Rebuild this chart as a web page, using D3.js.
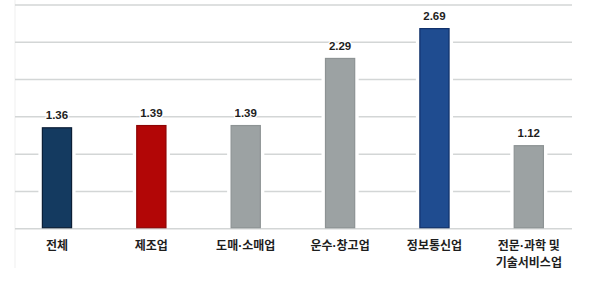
<!DOCTYPE html>
<html>
<head>
<meta charset="utf-8">
<script src="https://cdn.jsdelivr.net/npm/d3@7"></script>
<style>
  body { margin: 0; background: #fff; }
  svg { display: block; }
</style>
</head>
<body>
<svg id="chart"></svg>
<script>
const w = 600;
const h = 282;

const categories = ["전체", "제조업", "도매·소매업", "운수·창고업", "정보통신업", "전문·과학 및|기술서비스업"];
const values = [1.36, 1.39, 1.39, 2.29, 2.69, 1.12];
const barColors = ["#143a60", "#b20606", "#9ca2a3", "#9ca2a3", "#1f4c90", "#9ca2a3"];
const barStrokes = ["#0b1e36", "#8e0404", "#8d9394", "#8d9394", "#10306a", "#8d9394"];
const gridTicks = [0, 0.5, 1, 1.5, 2, 2.5, 3];

const svg = d3.select("#chart")
  .attr("width", w)
  .attr("height", h)
  .attr("viewBox", [0, 0, w, h]);

const x = d3.scaleBand()
  .domain(categories)
  .range([9.8, 576])
  .paddingInner(0.68)
  .paddingOuter(0.34);

const y = d3.scaleLinear()
  .domain([0, 3])
  .range([228.7, 5]);

// faint left edge
svg.append("line")
  .attr("x1", 15).attr("x2", 15)
  .attr("y1", 0).attr("y2", 268)
  .attr("stroke", "#efefef")
  .attr("stroke-width", 1);

// grid
svg.append("g")
  .selectAll("line")
  .data(gridTicks)
  .enter()
  .append("line")
  .attr("x1", 15)
  .attr("x2", 572)
  .attr("y1", d => y(d))
  .attr("y2", d => y(d))
  .attr("stroke", "#d3d6d6")
  .attr("stroke-width", 1.5);

// white gaps around bars (gridlines break there)
svg.append("g")
  .selectAll("rect")
  .data(categories)
  .enter()
  .append("rect")
  .attr("x", d => x(d) - 3.5)
  .attr("width", x.bandwidth() + 7)
  .attr("y", (d, i) => y(values[i]))
  .attr("height", (d, i) => y(0) - y(values[i]) - 1)
  .attr("fill", "#fff");

// bars
svg.append("g")
  .selectAll("rect")
  .data(categories)
  .enter()
  .append("rect")
  .attr("x", d => x(d) + 0.5)
  .attr("width", x.bandwidth() - 1)
  .attr("y", (d, i) => y(values[i]) + 0.5)
  .attr("height", (d, i) => y(0) - y(values[i]) - 1.5)
  .attr("fill", (d, i) => barColors[i])
  .attr("stroke", (d, i) => barStrokes[i])
  .attr("stroke-width", 1.2);

// value labels
svg.append("g")
  .selectAll("text")
  .data(categories)
  .enter()
  .append("text")
  .attr("x", d => x(d) + x.bandwidth() / 2)
  .attr("y", (d, i) => y(values[i]) - 8)
  .attr("text-anchor", "middle")
  .attr("font-family", "'Liberation Sans', Arial, sans-serif")
  .attr("font-weight", "bold")
  .attr("font-size", 11.5)
  .attr("fill", "#1e1e1e")
  .attr("stroke", "#fff")
  .attr("stroke-width", 2.5)
  .attr("paint-order", "stroke")
  .text((d, i) => values[i].toFixed(2));

// category labels, one <text> per line; the middle dot drawn narrow
const lines = [];
categories.forEach(c => c.split("|").forEach((t, j) => lines.push({ cat: c, text: t, line: j })));

const catText = svg.append("g")
  .selectAll("text")
  .data(lines)
  .enter()
  .append("text")
  .attr("x", d => x(d.cat) + x.bandwidth() / 2)
  .attr("y", d => 250 + d.line * 17)
  .attr("text-anchor", "middle")
  .attr("font-family", "'Noto Sans CJK KR', sans-serif")
  .attr("font-weight", "bold")
  .attr("font-size", 12)
  .attr("fill", "#1e1e1e");

catText.selectAll("tspan")
  .data(d => d.text.split(/(·)/).filter(s => s.length))
  .enter()
  .append("tspan")
  .attr("font-family", s => s === "·" ? "'Liberation Sans', sans-serif" : null)
  .text(s => s);
</script>
</body>
</html>
